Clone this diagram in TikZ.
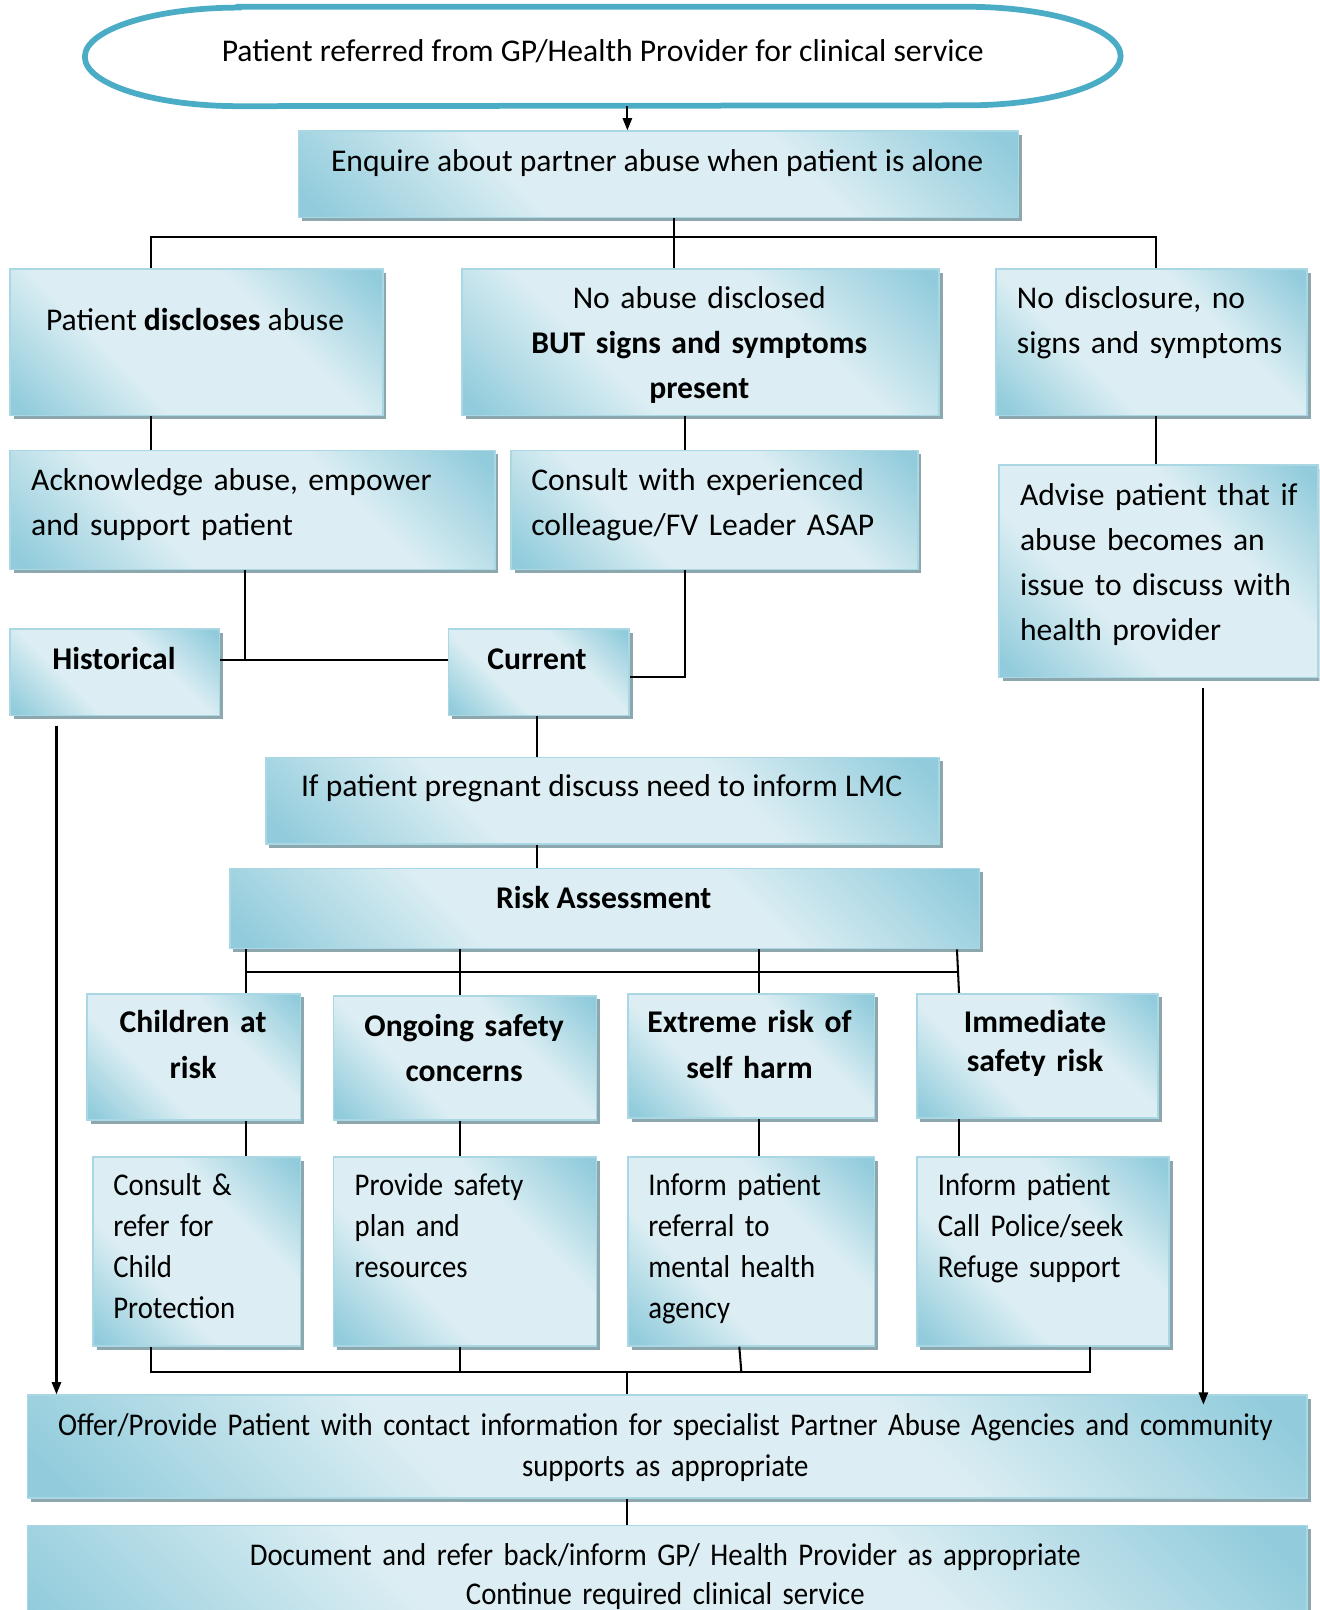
\documentclass[tikz,border=0pt]{standalone}
\usepackage{fontspec}
\setmainfont{Carlito}
\newfontfamily\narrowfont[FakeStretch=0.91]{Carlito}
\usepackage{tikz}
\usetikzlibrary{calc,shadows,arrows.meta}
\usepackage{xcolor}
\definecolor{boxdark}{HTML}{92CCDC}
\definecolor{boxlight}{HTML}{DCEEF3}
\definecolor{boxedge}{HTML}{A9D8E4}
\definecolor{boxshade}{HTML}{8DA7AF}
\definecolor{ovalline}{HTML}{4BACC6}
\pgfdeclareverticalshading{boxfade}{100bp}{color(0bp)=(boxdark); color(17bp)=(boxdark);
  color(37bp)=(boxlight); color(63bp)=(boxlight); color(83bp)=(boxdark); color(100bp)=(boxdark)}
\newcommand{\pxu}{0.5pt}
\newcommand{\flbox}[5]{\node[shbox, anchor=north west, minimum width={(#4-#2)*\pxu}, minimum height={(#5-#3)*\pxu}] (#1) at (#2,#3) {};}
\tikzset{
  shbox/.style={rectangle, draw=boxedge, line width=0.8pt, shade, shading=boxfade, shading angle=-45,
    inner sep=0pt, drop shadow={shadow xshift=1.8pt, shadow yshift=-1.8pt, fill=boxshade, opacity=1}},
  txt/.style={font=\fontsize{15.4}{22}\selectfont, inner sep=0pt},
  bold/.style={font=\fontsize{15.4}{22}\selectfont\bfseries, inner sep=0pt},
  narrow/.style={font=\narrowfont\fontsize{15.4}{20}\selectfont, inner sep=0pt},
  conn/.style={line width=1pt},
  arr/.style={line width=1pt, -{Triangle[length=6pt,width=4.5pt]}},
  oval/.style={draw=ovalline, line width=2.8pt}
}

\begin{document}
\begin{tikzpicture}[x=\pxu, y=-\pxu]
    \useasboundingbox (0,0) rectangle (1285,1568);
    \clip (0,0) rectangle (1285,1568);

    % referral oval
    \node[minimum width=504pt, minimum height=48pt, inner sep=0pt] (ref) at (587,55) {};
    \draw[oval] ($(ref.north west)+(150,0)$) -- ($(ref.north east)+(-150,0)$)
        arc[start angle=90, end angle=-90, x radius=75pt, y radius=24pt]
        -- ($(ref.south west)+(150,0)$)
        arc[start angle=270, end angle=90, x radius=75pt, y radius=24pt] -- cycle;
    \node[txt, anchor=base] (ref-t) at (587,60) {Patient referred from GP/Health Provider for clinical service};

    % boxes
    \flbox{enq}{290}{127}{991}{211}
    \flbox{disc}{9}{261}{372}{404}
    \flbox{nosig}{449}{261}{914}{404}
    \flbox{nodis}{969}{261}{1272}{404}
    \flbox{ack}{9}{438}{481}{554}
    \flbox{cons}{497}{438}{893}{554}
    \flbox{adv}{972}{452}{1283}{659}
    \flbox{hist}{9}{612}{213}{696}
    \flbox{curr}{436}{612}{612}{696}
    \flbox{preg}{258}{737}{914}{821}
    \flbox{risk}{223}{845}{953}{923}
    \flbox{child}{84}{967}{292}{1090}
    \flbox{ongo}{324}{969}{580}{1090}
    \flbox{extr}{611}{967}{851}{1088}
    \flbox{imm}{892}{967}{1127}{1088}
    \flbox{cprot}{90}{1126}{292}{1310}
    \flbox{plan}{324}{1126}{580}{1310}
    \flbox{mental}{611}{1126}{851}{1310}
    \flbox{police}{892}{1126}{1138}{1310}
    \flbox{offer}{26}{1358}{1272}{1458}
    \flbox{docu}{26}{1485}{1272}{1610}

    % texts
    \node[txt, anchor=base] (enq-t) at (640,167) {Enquire about partner abuse when patient is alone};
    \node[txt, anchor=base] (disc-t) at (190,322) {Patient \textbf{discloses} abuse};
    \node[txt, anchor=base, text width=220pt, align=center] (nosig-t) at (681,300)
        {No abuse disclosed\\\textbf{BUT signs and symptoms}\\\textbf{present}};
    \node[txt, anchor=base west, text width=145pt, align=left] (nodis-t) at (990,300)
        {No disclosure, no\\signs and symptoms};
    \node[txt, anchor=base west, text width=230pt, align=left] (ack-t) at (30,478)
        {Acknowledge abuse, empower\\and support patient};
    \node[txt, anchor=base west, text width=190pt, align=left] (cons-t) at (517,478)
        {Consult with experienced\\colleague/FV Leader ASAP};
    \node[txt, anchor=base west, text width=150pt, align=left] (adv-t) at (993,492)
        {Advise patient that if\\abuse becomes an\\issue to discuss with\\health provider};
    \node[bold, anchor=base] (hist-t) at (111,652) {Historical};
    \node[bold, anchor=base] (curr-t) at (523,652) {Current};
    \node[txt, anchor=base] (preg-t) at (586,776) {If patient pregnant discuss need to inform LMC};
    \node[bold, anchor=base] (risk-t) at (588,885) {Risk Assessment};
    \node[bold, anchor=base, text width=100pt, align=center] (child-t) at (188,1006) {Children at\\risk};
    \node[bold, anchor=base, text width=125pt, align=center] (ongo-t) at (452,1009) {Ongoing safety\\concerns};
    \node[bold, anchor=base, text width=115pt, align=center] (extr-t) at (730,1006) {Extreme risk of\\self harm};
    \node[bold, anchor=base, text width=110pt, align=center, font=\fontsize{15.4}{19}\selectfont\bfseries] (imm-t) at (1008,1006)
        {Immediate\\safety risk};
    \node[narrow, anchor=base west, text width=95pt, align=left] (cprot-t) at (110,1164)
        {Consult \&\\refer for\\Child\\Protection};
    \node[narrow, anchor=base west, text width=120pt, align=left] (plan-t) at (345,1164)
        {Provide safety\\plan and\\resources};
    \node[narrow, anchor=base west, text width=110pt, align=left] (mental-t) at (631,1164)
        {Inform patient\\referral to\\mental health\\agency};
    \node[narrow, anchor=base west, text width=115pt, align=left] (police-t) at (913,1164)
        {Inform patient\\Call Police/seek\\Refuge support};
    \node[narrow, anchor=base, text width=620pt, align=center] (offer-t) at (648,1398)
        {Offer/Provide Patient with contact information for specialist Partner Abuse Agencies and community\\supports as appropriate};
    \node[narrow, anchor=base, text width=620pt, align=center, font=\narrowfont\fontsize{15.4}{19}\selectfont] (docu-t) at (648,1525)
        {Document and refer back/inform GP/ Health Provider as appropriate\\Continue required clinical service};

    % connectors
    \draw[arr] (ref.south -| 611,0) -- (enq.north -| 611,0);
    \coordinate (split) at (656,231);
    \draw[conn] (enq.south -| split) -- (split);
    \draw[conn] (disc.north -| 147,0) |- (split) -| (nodis.north -| 1126,0);
    \draw[conn] (split) -- (nosig.north -| split);
    \draw[conn] (disc.south -| 147,0) -- (ack.north -| 147,0);
    \draw[conn] (nosig.south -| 667,0) -- (cons.north -| 667,0);
    \draw[conn] (nodis.south -| 1126,0) -- (adv.north -| 1126,0);
    \coordinate (join) at (239,643);
    \draw[conn] (ack.south -| join) -- (join);
    \draw[conn] (hist.east |- join) -- (curr.west |- join);
    \draw[conn] (cons.south -| 667,0) |- (curr.east |- 0,659);
    \draw[conn] (curr.south -| 523,0) -- (preg.north -| 523,0);
    \draw[conn] (preg.south -| 523,0) -- (risk.north -| 523,0);
    \draw[arr] ($(hist.south -| 55,0)+(0,9)$) -- (offer.north -| 55,0);
    \draw[arr] ($(adv.south -| 1172,0)+(0,9)$) -- ($(offer.north -| 1172,0)+(0,10)$);

    \coordinate (rbusL) at (240,947);
    \coordinate (rbusR) at (932,947);
    \draw[conn] (rbusL) -- (rbusR);
    \foreach \nx/\bx in {240/child, 448/ongo, 739/extr}
        \draw[conn] (risk.south -| \nx,0) -- (\bx.north -| \nx,0);
    \draw[conn] (risk.south -| rbusR) -- (imm.north -| 934,0);
    \foreach \nx/\ta/\tb in {240/child/cprot, 448/ongo/plan, 739/extr/mental, 934/imm/police}
        \draw[conn] (\ta.south -| \nx,0) -- (\tb.north -| \nx,0);

    \coordinate (obusL) at (147,1336);
    \coordinate (obusR) at (1062,1336);
    \draw[conn] (cprot.south -| obusL) -- (obusL) -- (obusR) -- (police.south -| obusR);
    \draw[conn] (plan.south -| 448,0) -- (448,1336);
    \draw[conn] (mental.south -| 720,0) -- (722,1336);
    \draw[conn] (611,1336) -- (offer.north -| 611,0);
    \draw[conn] (offer.south -| 611,0) -- (docu.north -| 611,0);
\end{tikzpicture}
\end{document}
